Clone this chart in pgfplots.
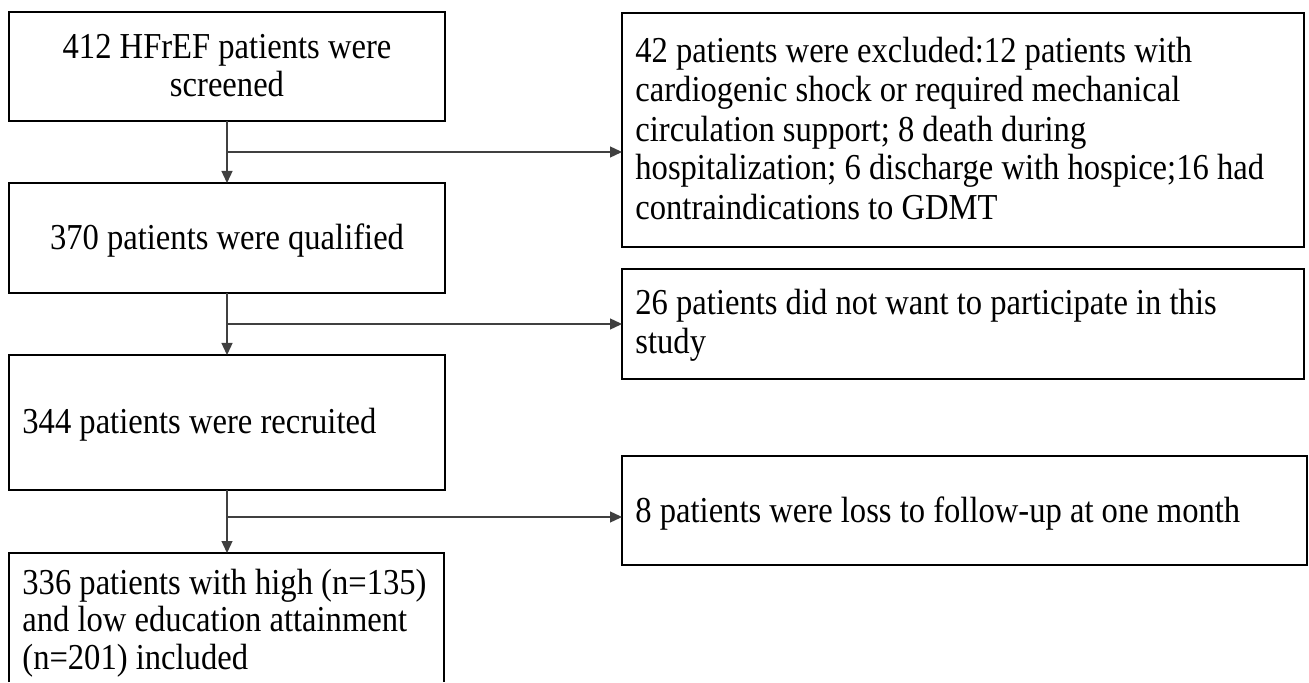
\documentclass[border=0pt]{standalone}
\usepackage{fontspec}
\setmainfont{Liberation Serif}
\usepackage{graphicx}
\usepackage{pgfplots}
\pgfplotsset{compat=1.18}
\usetikzlibrary{arrows.meta}
\newcommand{\tx}[1]{\scalebox{1}[1.12]{#1}}
\begin{document}
\begin{tikzpicture}
\begin{axis}[
  width=654.5pt, height=341pt, scale only axis,
  xmin=0, xmax=1309, ymin=0, ymax=682, y dir=reverse,
  hide axis, clip=false,
]
% full canvas
\path (axis cs:0,0) rectangle (axis cs:1309,682);
% boxes (pixel units, y from top)
\draw[line width=1pt] (axis cs:9,12) rectangle (axis cs:445,121);
\draw[line width=1pt] (axis cs:9,183) rectangle (axis cs:445,293);
\draw[line width=1pt] (axis cs:9,355) rectangle (axis cs:445,490);
\draw[line width=1pt] (axis cs:9,682) -- (axis cs:9,553) -- (axis cs:444,553) -- (axis cs:444,682);
\draw[line width=1pt] (axis cs:622,13) rectangle (axis cs:1304,247);
\draw[line width=1pt] (axis cs:622,269) rectangle (axis cs:1304,379);
\draw[line width=1pt] (axis cs:622,456) rectangle (axis cs:1307,565);
% arrows
\tikzset{arr/.style={draw=black!75, line width=0.65pt, -{Triangle[length=6pt,width=5.5pt]}}}
\draw[arr] (axis cs:227,121) -- (axis cs:227,183);
\draw[arr] (axis cs:227,152) -- (axis cs:622,152);
\draw[arr] (axis cs:227,293) -- (axis cs:227,355);
\draw[arr] (axis cs:227,324) -- (axis cs:622,324);
\draw[arr] (axis cs:227,490) -- (axis cs:227,553);
\draw[arr] (axis cs:227,517) -- (axis cs:622,517);
% texts
\tikzset{t/.style={inner sep=0pt, font=\fontsize{16.3pt}{19.6pt}\selectfont}}
\node[t, anchor=base] at (axis cs:227,59) {\tx{412 HFrEF patients were}};
\node[t, anchor=base] at (axis cs:227,97) {\tx{screened}};
\node[t, anchor=base] at (axis cs:227,250) {\tx{370 patients were qualified}};
\node[t, anchor=base west] at (axis cs:22,433) {\tx{344 patients were recruited}};
\node[t, anchor=base west] at (axis cs:22,594) {\tx{336 patients with high (n=135)}};
\node[t, anchor=base west] at (axis cs:22,631) {\tx{and low education attainment}};
\node[t, anchor=base west] at (axis cs:22,669) {\tx{(n=201) included}};
\node[t, anchor=base west] at (axis cs:635,63) {\tx{42 patients were excluded:12 patients with}};
\node[t, anchor=base west] at (axis cs:635,102) {\tx{cardiogenic shock or required mechanical}};
\node[t, anchor=base west] at (axis cs:635,142) {\tx{circulation support; 8 death during}};
\node[t, anchor=base west] at (axis cs:635,180) {\tx{hospitalization; 6 discharge with hospice;16 had}};
\node[t, anchor=base west] at (axis cs:635,220) {\tx{contraindications to GDMT}};
\node[t, anchor=base west] at (axis cs:635,315) {\tx{26 patients did not want to participate in this}};
\node[t, anchor=base west] at (axis cs:635,354) {\tx{study}};
\node[t, anchor=base west] at (axis cs:635,522) {\tx{8 patients were loss to follow-up at one month}};
\end{axis}
\end{tikzpicture}
\end{document}
